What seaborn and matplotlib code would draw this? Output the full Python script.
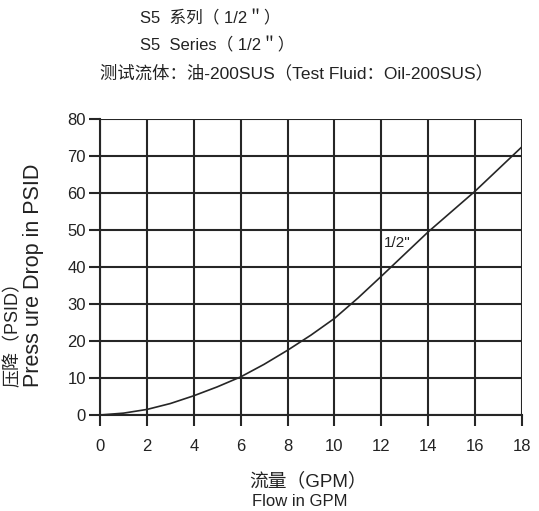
import matplotlib
matplotlib.use("Agg")
import matplotlib.pyplot as plt
import seaborn as sns
import pandas as pd

# flow (GPM) vs pressure drop (PSID)
flow = [0, 1, 2, 3, 4, 5, 6, 7, 8, 9, 10, 11, 12, 13, 14, 15, 16, 17, 18]
psid = [0, 0.5, 1.5, 3.1, 5.2, 7.6, 10.3, 13.7, 17.5, 21.6, 26.1, 31.6, 37.5, 43.5, 49.5, 55.0, 60.5, 66.5, 72.5]
x_ticks = [0, 2, 4, 6, 8, 10, 12, 14, 16, 18]
y_ticks = [0, 10, 20, 30, 40, 50, 60, 70, 80]
curve_label = '1/2"'

df = pd.DataFrame({"flow": flow, "psid": psid})

sns.set_theme(style="white")
fonts = ["Liberation Sans", "Noto Sans CJK SC", "DejaVu Sans"]
plt.rcParams["font.family"] = fonts

fig = plt.figure(figsize=(5.39, 5.11), dpi=100)
ax = fig.add_axes([100 / 539, 1 - 415 / 511, 422 / 539, 296 / 511])

ink = "#262626"
sns.lineplot(data=df, x="flow", y="psid", ax=ax, color=ink, linewidth=1.2)

ax.set_xlim(0, 18)
ax.set_ylim(0, 80)
ax.set_xticks(x_ticks)
ax.set_yticks(y_ticks)
ax.grid(True, color=ink, linewidth=1.5)
ax.set_axisbelow(True)
for side in ["top", "right"]:
    ax.spines[side].set_visible(False)
for side in ["left", "bottom"]:
    ax.spines[side].set_color(ink)
    ax.spines[side].set_linewidth(1.5)
ax.tick_params(axis="both", direction="out", length=8, width=1.5, color=ink,
               labelsize=12, labelcolor="#222222", left=True, bottom=True)
ax.tick_params(axis="x", pad=9)
ax.tick_params(axis="y", pad=2)
ax.set_xlabel("")
ax.set_ylabel("")

ax.text(12.1, 46.5, curve_label, fontsize=11, color="#222222", va="center", ha="left")

# titles
fig.text(140 / 539, 1 - 18 / 511, 'S5  系列（ 1/2＂）', fontsize=12, ha="left", va="center", color="#222222")
fig.text(140 / 539, 1 - 45 / 511, 'S5  Series（ 1/2＂）', fontsize=12, ha="left", va="center", color="#222222")
fig.text(100 / 539, 1 - 73 / 511, '测试流体：油-200SUS（Test Fluid：Oil-200SUS）', fontsize=12.5,
         ha="left", va="center", color="#222222")

# axis labels
fig.text(308 / 539, 1 - 481 / 511, "流量（GPM）", fontsize=13.5, ha="center", va="center", color="#222222")
fig.text(300 / 539, 1 - 502 / 511, "Flow in GPM", fontsize=12, ha="center", va="center", color="#222222")
fig.text(13 / 539, 1 - 387 / 511, "压降（PSID）", fontsize=13, rotation=90, ha="center", va="bottom", color="#222222")
fig.text(34 / 539, 1 - 387 / 511, "Press ure Drop in PSID", fontsize=15.5, rotation=90, ha="center", va="bottom", color="#222222")

fig.savefig("out.png", dpi=100)
